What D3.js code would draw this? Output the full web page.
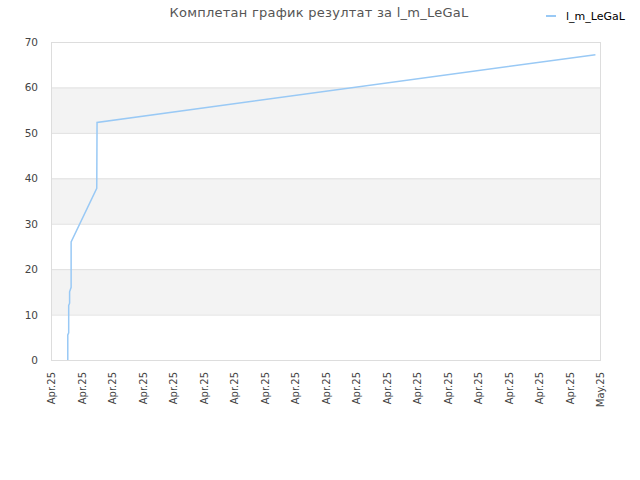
<!DOCTYPE html>
<html>
<head>
<meta charset="utf-8">
<script src="https://cdn.jsdelivr.net/npm/d3@7"></script>
<style>
  body { margin: 0; background: #fff; }
  text { font-family: "DejaVu Sans", sans-serif; }
</style>
</head>
<body>
<div id="chart"></div>
<script>
// chart data
var titleText = "Комплетан график резултат за l_m_LeGaL";
var seriesName = "l_m_LeGaL";
var tickLabels = ["Apr.25","Apr.25","Apr.25","Apr.25","Apr.25","Apr.25","Apr.25","Apr.25","Apr.25",
                  "Apr.25","Apr.25","Apr.25","Apr.25","Apr.25","Apr.25","Apr.25","Apr.25","Apr.25","May.25"];
// position along the time axis (in tick steps) and score
var pointX = [0.55, 0.55, 0.58, 0.58, 0.61, 0.61, 0.66, 0.66, 1.5, 1.51, 17.85];
var pointY = [0, 5.5, 6, 12, 12.5, 15, 16, 26, 37.8, 52.3, 67.2];
var yTicks = [0, 10, 20, 30, 40, 50, 60, 70];

var width = 640, height = 480;
var margin = {top: 42, right: 40, bottom: 120, left: 51};
var plotW = 600 - margin.left, plotH = 360 - margin.top;

var svg = d3.select("#chart").append("svg")
  .attr("width", width)
  .attr("height", height);

var x = d3.scaleLinear().domain([0, tickLabels.length - 1]).range([margin.left, margin.left + plotW]);
var y = d3.scaleLinear().domain([0, 70]).range([margin.top + plotH, margin.top]);

// alternating bands
for (var i = 0; i < yTicks.length - 1; i++) {
  svg.append("rect")
    .attr("x", x(0))
    .attr("y", y(yTicks[i + 1]))
    .attr("width", plotW)
    .attr("height", y(yTicks[i]) - y(yTicks[i + 1]))
    .style("fill", i % 2 == 1 ? "#f3f3f3" : "#ffffff");
}

// grid lines
svg.selectAll("line.grid")
  .data(yTicks)
  .enter()
  .append("line")
    .attr("class", "grid")
    .attr("x1", x(0)).attr("x2", x(0) + plotW)
    .attr("y1", function(d) { return y(d) + 0.5; })
    .attr("y2", function(d) { return y(d) + 0.5; })
    .style("stroke", "#e0e0e0");

// frame
svg.append("rect")
  .attr("x", x(0) + 0.5).attr("y", y(70) + 0.5)
  .attr("width", plotW).attr("height", plotH)
  .style("fill", "none")
  .style("stroke", "#dddddd");

// y axis labels
svg.selectAll("text.ylab")
  .data(yTicks)
  .enter()
  .append("text")
    .attr("class", "ylab")
    .attr("x", x(0) - 13)
    .attr("y", function(d) { return y(d) + 4; })
    .attr("text-anchor", "end")
    .attr("font-size", 10.5)
    .style("fill", "#444")
    .text(function(d) { return d; });

// x axis labels
svg.selectAll("text.xlab")
  .data(tickLabels)
  .enter()
  .append("text")
    .attr("class", "xlab")
    .attr("transform", function(d, i) { return "translate(" + (x(i) + 4) + "," + 372 + ") rotate(-90)"; })
    .attr("text-anchor", "end")
    .attr("font-size", 10)
    .style("fill", "#444")
    .text(function(d) { return d; });

// the line
var pts = pointX.map(function(d, i) { return [d, pointY[i]]; });
svg.append("path")
  .datum(pts)
  .attr("d", d3.line().x(function(d) { return x(d[0]); }).y(function(d) { return y(d[1]); }))
  .style("fill", "none")
  .style("stroke", "#99c9f5")
  .style("stroke-width", 1.5);

// title
svg.append("text")
  .attr("x", 319).attr("y", 17)
  .attr("text-anchor", "middle")
  .attr("font-size", 13)
  .attr("letter-spacing", 0.25)
  .style("fill", "#555")
  .text(titleText);

// legend
svg.append("line")
  .attr("x1", 546).attr("x2", 556)
  .attr("y1", 16).attr("y2", 16)
  .style("stroke", "#99c9f5")
  .style("stroke-width", 2);
svg.append("text")
  .attr("x", 566).attr("y", 20)
  .attr("font-size", 11)
  .style("fill", "#000")
  .text(seriesName);
</script>
</body>
</html>
